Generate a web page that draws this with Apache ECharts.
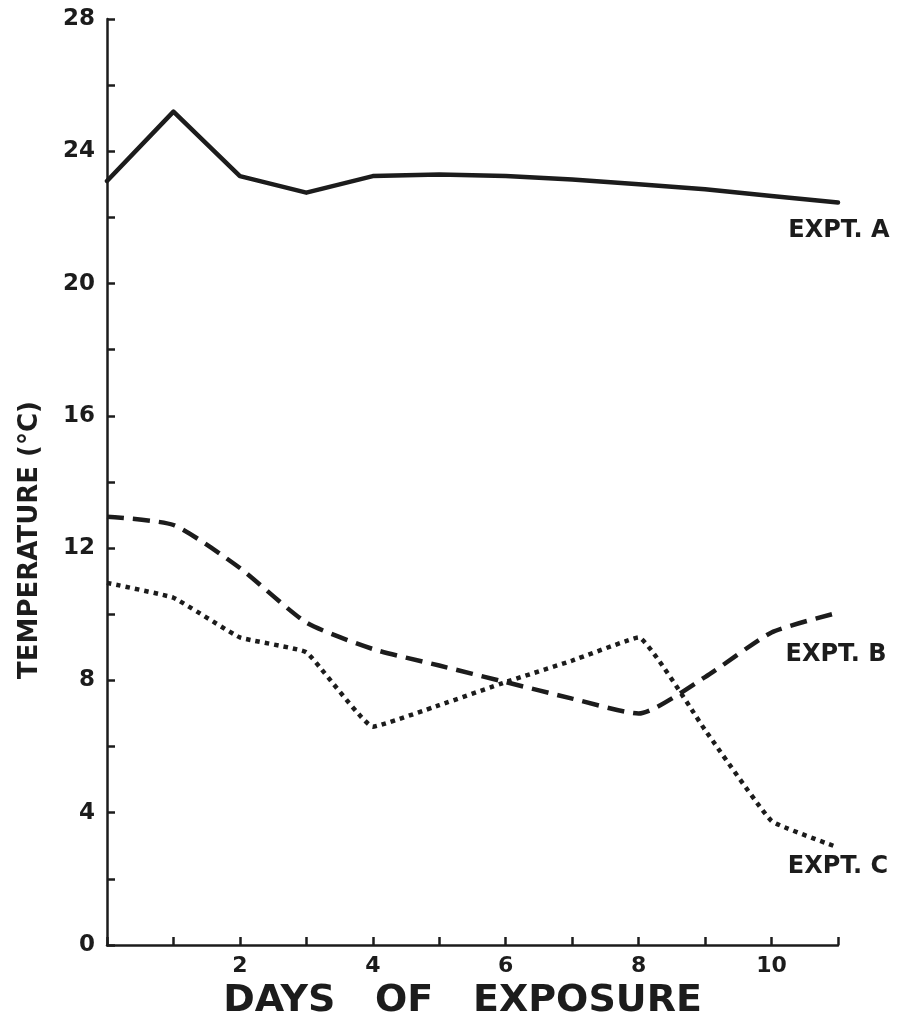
<!DOCTYPE html>
<html>
<head>
<meta charset="utf-8">
<script src="https://cdn.jsdelivr.net/npm/echarts@6/dist/echarts.min.js"></script>
<style>html,body{margin:0;padding:0;background:#fff}#c{width:902px;height:1026px}</style>
</head>
<body>
<div id="c"></div>
<script>
const days = [0,1,2,3,4,5,6,7,8,9,10,11];
const exptA = [23.1,25.2,23.25,22.75,23.25,23.3,23.25,23.15,23.0,22.85,22.65,22.45];
const exptB = [12.95,12.7,11.4,9.75,8.95,8.45,7.95,7.45,7.0,8.1,9.45,10.05];
const exptC = [10.95,10.5,9.3,8.85,6.6,7.25,7.95,8.6,9.3,6.5,3.75,2.95];
const seriesNames = ['EXPT. A','EXPT. B','EXPT. C'];
const yTickLabels = [0,4,8,12,16,20,24,28];
const xTickLabels = [2,4,6,8,10];

const ink = '#1c1c1c';
const fontFam = '"DejaVu Sans", "Liberation Sans", sans-serif';
const chart = echarts.init(document.getElementById('c'));
const pairs = arr => days.map((d,i)=>[d,arr[i]]);

chart.setOption({
  backgroundColor:'#fff',
  animation:false,
  grid:{left:107,right:64,top:19,bottom:81,containLabel:false},
  xAxis:{
    type:'value',min:0,max:11,interval:1,
    name:'DAYS   OF   EXPOSURE',nameLocation:'middle',nameGap:35,
    nameTextStyle:{color:ink,fontSize:38,fontWeight:'bold',fontFamily:fontFam,padding:[0,20,0,0]},
    axisLine:{show:true,lineStyle:{color:ink,width:2.5}},
    axisTick:{show:true,inside:true,length:8,lineStyle:{color:ink,width:2.5}},
    axisLabel:{color:ink,fontSize:22,fontWeight:'bold',fontFamily:fontFam,margin:10,
      formatter:v=>xTickLabels.indexOf(v)>=0?String(v):''},
    splitLine:{show:false}
  },
  yAxis:{
    type:'value',min:0,max:28,interval:2,
    axisLine:{show:true,lineStyle:{color:ink,width:2.5}},
    axisTick:{show:true,inside:true,length:8,lineStyle:{color:ink,width:2.5}},
    axisLabel:{color:ink,fontSize:23,fontWeight:'bold',fontFamily:fontFam,margin:12,
      formatter:v=>yTickLabels.indexOf(v)>=0?String(v):''},
    splitLine:{show:false}
  },
  series:[
    {name:seriesNames[0],type:'line',data:pairs(exptA),showSymbol:false,smooth:false,
      lineStyle:{color:ink,width:4.5,cap:'round',join:'round'}},
    {name:seriesNames[1],type:'line',data:pairs(exptB),showSymbol:false,smooth:0.2,
      lineStyle:{color:ink,width:4.5,type:[17,9]}},
    {name:seriesNames[2],type:'line',data:pairs(exptC),showSymbol:false,smooth:0.1,
      lineStyle:{color:ink,width:4.5,type:[4.5,5]}}
  ]
});

const ends = [exptA, exptB, exptC];
const offs = [[1,28],[-2,42],[0,19]];
const g = ends.map((arr,i)=>{
  const p = chart.convertToPixel('grid',[days[days.length-1],arr[arr.length-1]]);
  return {type:'text',x:p[0]+offs[i][0],y:p[1]+offs[i][1],
    style:{text:seriesNames[i],fill:ink,font:'bold 24px '+fontFam,align:'center',verticalAlign:'middle'}};
});
g.push({type:'text',x:30,y:540,rotation:Math.PI/2,
  style:{text:'TEMPERATURE (°C)',fill:ink,font:'bold 26px '+fontFam,align:'center',verticalAlign:'middle'}});
chart.setOption({graphic:g});
</script>
</body>
</html>
